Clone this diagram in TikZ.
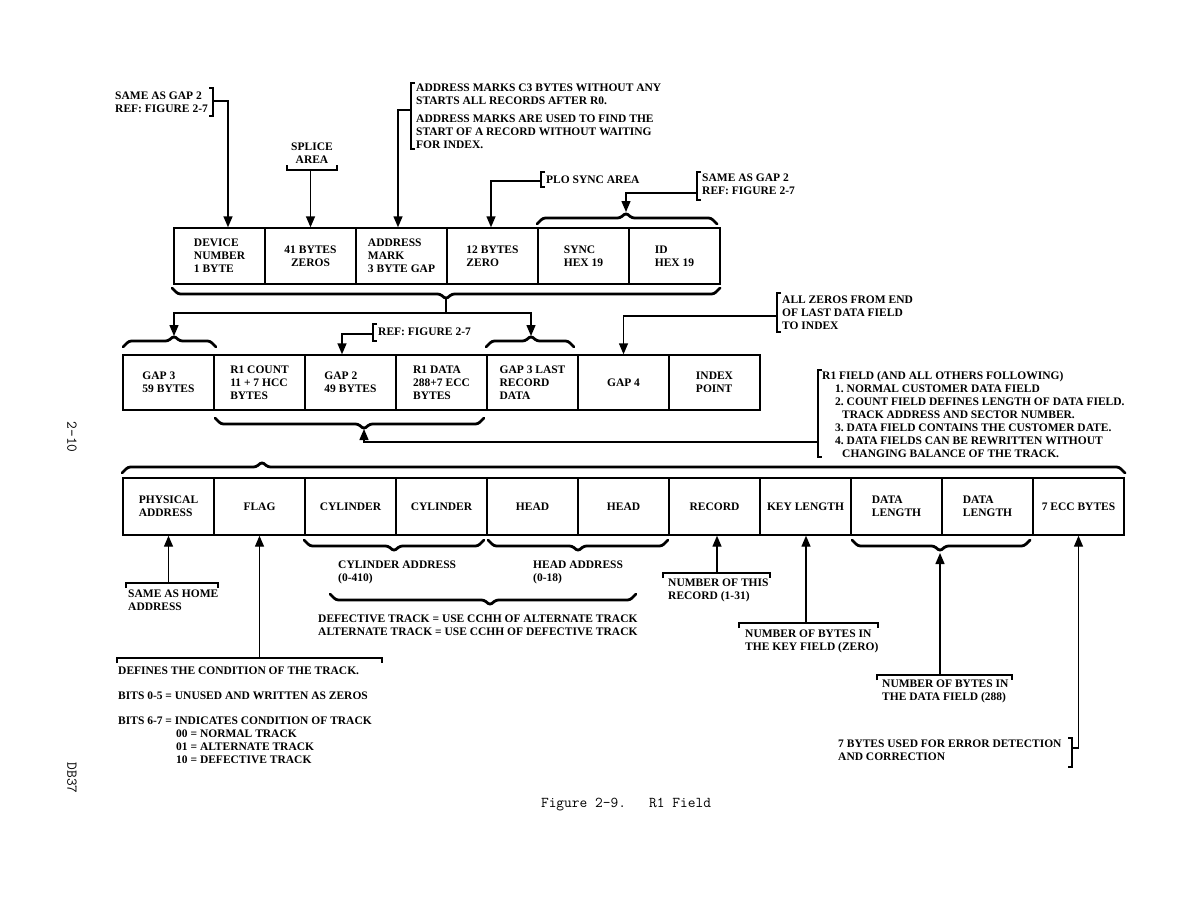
\documentclass[tikz,border=0pt]{standalone}
\usepackage{fontspec}
\setmainfont{Liberation Serif}
\usetikzlibrary{arrows.meta}
\newcommand\bracedn[4]{\draw[brc] (#1,#4) -- (#1+6,#4+6) -- (#3-6,#4+6) -- (#3,#4+11) -- (#3+6,#4+6) -- (#2-6,#4+6) -- (#2,#4);}
\newcommand\braceup[4]{\draw[brc] (#1,#4) -- (#1+6,#4-6) -- (#3-6,#4-6) -- (#3,#4-11) -- (#3+6,#4-6) -- (#2-6,#4-6) -- (#2,#4);}
\begin{document}
\begin{tikzpicture}[x=1pt,y=-1pt,
  font=\fontsize{11.5}{13}\selectfont\bfseries,
  fld/.style={draw, line width=1.4pt, minimum width=91pt, minimum height=56pt, inner sep=2pt, align=left},
  lbl/.style={inner sep=0pt, align=left, anchor=north west},
  brk/.style={line width=1.2pt},
  brc/.style={line width=2.8pt, rounded corners=2.5pt, line cap=round, line join=round},
  conn/.style={line width=1.4pt},
  arr/.style={line width=1.4pt, -{Triangle[length=11pt,width=9pt]}},
  side/.style={font=\ttfamily\fontsize{15}{16}\selectfont, inner sep=0pt}]
\fill[white] (0,0) rectangle (1188,918);
\useasboundingbox (0,0) rectangle (1188,918);

% ---------- row 1 ----------
\node[fld] (dev) at (219.5,256) {DEVICE\\NUMBER\\1 BYTE};
\node[fld,align=center] (zer) at (310.5,256) {41 BYTES\\ZEROS};
\node[fld] (am) at (401.5,256) {ADDRESS\\MARK\\3 BYTE GAP};
\node[fld] (tz) at (492.5,256) {12 BYTES\\ZERO};
\node[fld] (sy) at (583.5,256) {SYNC\\HEX 19};
\node[fld] (id) at (674.5,256) {ID\\HEX 19};

% ---------- row 2 ----------
\node[fld,minimum height=55pt] (g3) at (168.5,382.5) {GAP 3\\59 BYTES};
\node[fld,minimum height=55pt] (rc) at (259.5,382.5) {R1 COUNT\\11 + 7 HCC\\BYTES};
\node[fld,minimum height=55pt] (g2) at (350.5,382.5) {GAP 2\\49 BYTES};
\node[fld,minimum height=55pt] (rd) at (441.5,382.5) {R1 DATA\\288+7 ECC\\BYTES};
\node[fld,minimum height=55pt] (g3l) at (532.5,382.5) {GAP 3 LAST\\RECORD\\DATA};
\node[fld,minimum height=55pt] (g4) at (623.5,382.5) {GAP 4};
\node[fld,minimum height=55pt] (ix) at (714.5,382.5) {INDEX\\POINT};

% ---------- row 3 ----------
\node[fld,minimum height=57pt] (ph) at (168.5,506.5) {PHYSICAL\\ADDRESS};
\node[fld,minimum height=57pt] (fl) at (259.5,506.5) {FLAG};
\node[fld,minimum height=57pt] (cy1) at (350.5,506.5) {CYLINDER};
\node[fld,minimum height=57pt] (cy2) at (441.5,506.5) {CYLINDER};
\node[fld,minimum height=57pt] (hd1) at (532.5,506.5) {HEAD};
\node[fld,minimum height=57pt] (hd2) at (623.5,506.5) {HEAD};
\node[fld,minimum height=57pt] (rec) at (714.5,506.5) {RECORD};
\node[fld,minimum height=57pt] (key) at (805.5,506.5) {KEY LENGTH};
\node[fld,minimum height=57pt] (dl1) at (896.5,506.5) {DATA\\LENGTH};
\node[fld,minimum height=57pt] (dl2) at (987.5,506.5) {DATA\\LENGTH};
\node[fld,minimum height=57pt] (ecc) at (1078.5,506.5) {7 ECC BYTES};

% ---------- top annotations ----------
\node[lbl] (sag) at (115,92) {SAME AS GAP 2\\REF: FIGURE 2-7};
\draw[brk] (209,88) -- (213,88) -- (213,116) -- (209,116);
\coordinate (c1) at (213,101);
\draw[arr] (c1) -| ([xshift=8.5pt]dev.north);

\node[align=center, inner sep=0pt] (spl) at (312,153) {SPLICE\\AREA};
\draw[brk] (287,165) -- (287,170) -- (337,170) -- (337,165);
\coordinate (c2) at (310.5,170);
\draw[arr] (c2) -- (zer.north);

\node[lbl] (adm) at (416,84) {ADDRESS MARKS C3 BYTES WITHOUT ANY\\STARTS ALL RECORDS AFTER R0.\\[5pt]ADDRESS MARKS ARE USED TO FIND THE\\START OF A RECORD WITHOUT WAITING\\FOR INDEX.};
\draw[brk] (415,83) -- (411,83) -- (411,149) -- (415,149);
\coordinate (c3) at (411,110);
\draw[arr] (c3) -| ([xshift=-3.5pt]am.north);

\node[lbl, anchor=west] (plo) at (546,179.5) {PLO SYNC AREA};
\draw[brk] (545,172) -- (541,172) -- (541,187) -- (545,187);
\coordinate (c4) at (541,181);
\draw[arr] (c4) -| ([xshift=-1.5pt]tz.north);

\node[lbl] (sag2) at (702,174) {SAME AS GAP 2\\REF: FIGURE 2-7};
\draw[brk] (701,172) -- (697,172) -- (697,200) -- (701,200);
\braceup{537}{717}{626}{224}
\coordinate (c5) at (697,193);
\coordinate (t1) at (626,212);
\draw[arr] (c5) -| (t1);

% ---------- between row 1 and row 2 ----------
\bracedn{172}{720}{446}{288}
\coordinate (t2) at (446,299);
\coordinate (j1) at (446,313);
\draw[conn] (t2) -- (j1);
\braceup{123}{216}{174}{347}
\braceup{486}{574}{531}{347}
\coordinate (t3) at (174,336);
\coordinate (t4) at (531,336);
\draw[arr] (j1) -| (t3);
\draw[arr] (j1) -| (t4);

\node[lbl, anchor=west] (ref) at (378,331.5) {REF: FIGURE 2-7};
\draw[brk] (377,324) -- (373,324) -- (373,341) -- (377,341);
\coordinate (c7) at (373,334);
\draw[arr] (c7) -| ([xshift=-8.5pt]g2.north);

\node[lbl] (alz) at (782,296) {ALL ZEROS FROM END\\OF LAST DATA FIELD\\TO INDEX};
\draw[brk] (781,293) -- (777,293) -- (777,332) -- (781,332);
\coordinate (c8) at (777,316);
\draw[arr] (c8) -| (g4.north);

% ---------- between row 2 and row 3 ----------
\bracedn{215}{484}{364}{418}
\node[lbl] (r1f) at (822,371) {R1 FIELD (AND ALL OTHERS FOLLOWING)\\
\hspace*{13pt}1.~NORMAL CUSTOMER DATA FIELD\\
\hspace*{13pt}2.~COUNT FIELD DEFINES LENGTH OF DATA FIELD.\\
\hspace*{20pt}TRACK ADDRESS AND SECTOR NUMBER.\\
\hspace*{13pt}3.~DATA FIELD CONTAINS THE CUSTOMER DATE.\\
\hspace*{13pt}4.~DATA FIELDS CAN BE REWRITTEN WITHOUT\\
\hspace*{20pt}CHANGING BALANCE OF THE TRACK.};
\draw[brk] (822,370) -- (818,370) -- (818,457) -- (822,457);
\coordinate (c9) at (818,442);
\coordinate (t5) at (364,429);
\draw[arr] (c9) -| (t5);

\braceup{122}{1125}{262}{473}

% ---------- below row 3 ----------
\node[lbl] (home) at (128,590) {SAME AS HOME\\ADDRESS};
\draw[brk] (126,588) -- (126,583) -- (218,583) -- (218,588);
\coordinate (c10) at (168.5,583);
\draw[arr] (c10) -- (ph.south);

\node[lbl] (def) at (118,667) {DEFINES THE CONDITION OF THE TRACK.\\[12pt]BITS 0-5 = UNUSED AND WRITTEN AS ZEROS\\[12pt]BITS 6-7 = INDICATES CONDITION OF TRACK\\\hspace*{58pt}00 = NORMAL TRACK\\\hspace*{58pt}01 = ALTERNATE TRACK\\\hspace*{58pt}10 = DEFECTIVE TRACK};
\draw[brk] (117,663) -- (117,658) -- (382,658) -- (382,663);
\coordinate (c11) at (259.5,658);
\draw[arr] (c11) -- (fl.south);

\bracedn{304}{484}{394}{540}
\bracedn{488}{668}{578}{540}
\node[lbl] (cya) at (338,561) {CYLINDER ADDRESS\\(0-410)};
\node[lbl] (hda) at (533,561) {HEAD ADDRESS\\(0-18)};
\bracedn{330}{636}{490}{594}
\node[lbl] (dft) at (318,615) {DEFECTIVE TRACK = USE CCHH OF ALTERNATE TRACK\\ALTERNATE TRACK = USE CCHH OF DEFECTIVE TRACK};

\node[lbl] (nrec) at (668,579) {NUMBER OF THIS\\RECORD (1-31)};
\draw[brk] (663,578) -- (663,573) -- (770,573) -- (770,578);
\coordinate (c12) at (717,573);
\draw[arr] (c12) -- (c12 |- rec.south);

\node[lbl] (nkey) at (745,630) {NUMBER OF BYTES IN\\THE KEY FIELD (ZERO)};
\draw[brk] (739,628) -- (739,623) -- (878,623) -- (878,628);
\coordinate (c13) at (806,623);
\draw[arr] (c13) -- (c13 |- key.south);

\bracedn{852}{1030}{940}{540}
\node[lbl] (ndat) at (882,680) {NUMBER OF BYTES IN\\THE DATA FIELD (288)};
\draw[brk] (877,680) -- (877,675) -- (1012,675) -- (1012,680);
\coordinate (c14) at (940,675);
\coordinate (t6) at (940,553);
\draw[arr] (c14) -- (t6);

\node[lbl] (necc) at (838,740) {7 BYTES USED FOR ERROR DETECTION\\AND CORRECTION};
\draw[brk] (1068,738) -- (1072,738) -- (1072,767) -- (1068,767);
\coordinate (c15) at (1072,748);
\draw[arr] (c15) -| (ecc.south);

% ---------- page marks ----------
\node[side, rotate=-90] (pg) at (72,437) {2-10};
\node[side, rotate=-90] (db) at (72,778) {DB37};
\node[side] (cap) at (626,805) {Figure 2-9.\ \ \ R1 Field};
\end{tikzpicture}
\end{document}
